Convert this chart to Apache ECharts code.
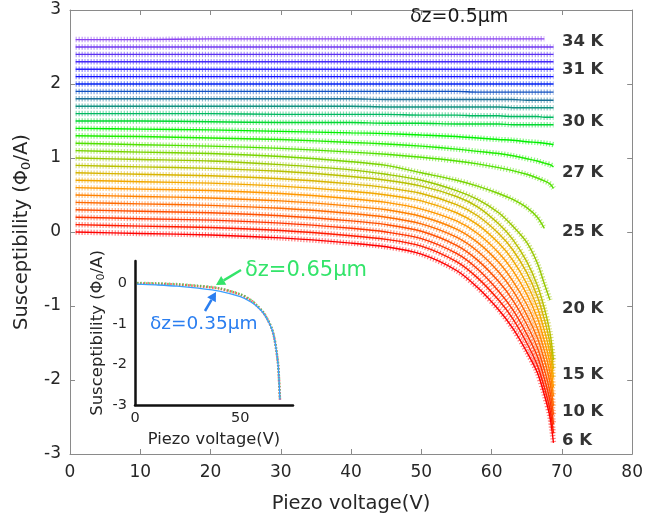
<!DOCTYPE html>
<html>
<head>
<meta charset="utf-8">
<script src="https://cdn.jsdelivr.net/npm/echarts@6/dist/echarts.min.js"></script>
<style>
  html, body { margin: 0; padding: 0; background: #fff; }
  #chart { width: 646px; height: 519px; }
</style>
</head>
<body>
<div id="chart"></div>
<script>
// piezo voltage grid the curves were read at
const piezoV = [0.8, 10, 20, 30, 40, 45, 50, 55, 58, 61, 63, 65, 66.5, 67.5, 68.3, 68.8];

// susceptibility, one row per temperature, bottom (6 K) to top (34 K)
const chi = [
  [0.00, -0.02, -0.04, -0.08, -0.15, -0.20, -0.30, -0.52, -0.75, -1.05, -1.30, -1.62, -1.90, -2.20, -2.50, -2.85],
  [0.10, 0.08, 0.06, 0.02, -0.05, -0.10, -0.19, -0.40, -0.62, -0.92, -1.17, -1.50, -1.80, -2.10, -2.40, -2.72],
  [0.20, 0.18, 0.16, 0.12, 0.05, 0.00, -0.09, -0.29, -0.50, -0.80, -1.05, -1.38, -1.68, -1.98, -2.28, -2.60],
  [0.30, 0.28, 0.26, 0.22, 0.15, 0.10, 0.01, -0.18, -0.38, -0.67, -0.92, -1.25, -1.56, -1.86, -2.16, -2.47],
  [0.40, 0.38, 0.36, 0.32, 0.25, 0.20, 0.11, -0.07, -0.26, -0.54, -0.79, -1.12, -1.43, -1.73, -2.03, -2.35],
  [0.50, 0.48, 0.46, 0.42, 0.35, 0.30, 0.21, 0.04, -0.14, -0.41, -0.66, -0.98, -1.30, -1.60, -1.90, -2.22],
  [0.60, 0.58, 0.56, 0.52, 0.45, 0.40, 0.31, 0.15, -0.02, -0.28, -0.52, -0.84, -1.16, -1.47, -1.77, -2.10],
  [0.70, 0.68, 0.66, 0.62, 0.55, 0.50, 0.42, 0.26, 0.10, -0.15, -0.38, -0.70, -1.02, -1.33, -1.64, -1.97],
  [0.80, 0.78, 0.76, 0.72, 0.65, 0.60, 0.52, 0.37, 0.22, -0.02, -0.24, -0.55, -0.87, -1.18, -1.50, -1.85],
  [0.90, 0.88, 0.86, 0.82, 0.75, 0.70, 0.62, 0.48, 0.34, 0.11, -0.10, -0.40, -0.72, -1.03, -1.36, -1.73],
  [1.00, 0.98, 0.96, 0.91, 0.84, 0.78, 0.70, 0.56, 0.44, 0.26, 0.08, -0.14, -0.42, -0.70, -0.92, null],
  [1.10, 1.08, 1.06, 1.02, 0.95, 0.90, 0.80, 0.70, 0.62, 0.52, 0.44, 0.33, 0.20, 0.05, null, null],
  [1.20, 1.18, 1.16, 1.13, 1.08, 1.05, 1.01, 0.96, 0.92, 0.87, 0.83, 0.78, 0.73, 0.69, 0.65, 0.59],
  [1.30, 1.29, 1.27, 1.25, 1.21, 1.19, 1.16, 1.12, 1.09, 1.06, 1.03, 0.99, 0.96, 0.93, 0.91, 0.88],
  [1.40, 1.39, 1.38, 1.36, 1.34, 1.33, 1.31, 1.29, 1.27, 1.25, 1.24, 1.22, 1.21, 1.20, 1.19, 1.18],
  [1.50, 1.50, 1.49, 1.48, 1.48, 1.47, 1.47, 1.46, 1.46, 1.46, 1.45, 1.45, 1.45, 1.45, 1.45, 1.45],
  [1.60, 1.60, 1.60, 1.59, 1.59, 1.59, 1.58, 1.58, 1.57, 1.57, 1.56, 1.56, 1.56, 1.55, 1.55, 1.55],
  [1.70, 1.70, 1.70, 1.70, 1.70, 1.69, 1.69, 1.69, 1.69, 1.69, 1.68, 1.68, 1.68, 1.68, 1.68, 1.68],
  [1.80, 1.80, 1.80, 1.80, 1.80, 1.79, 1.79, 1.79, 1.79, 1.79, 1.79, 1.78, 1.78, 1.78, 1.78, 1.78],
  [1.90, 1.90, 1.90, 1.90, 1.90, 1.90, 1.90, 1.90, 1.89, 1.89, 1.89, 1.89, 1.89, 1.89, 1.89, 1.89],
  [2.00, 2.00, 2.00, 2.00, 2.00, 2.00, 2.00, 2.00, 2.00, 2.00, 2.00, 2.00, 2.00, 2.00, 2.00, 2.00],
  [2.10, 2.10, 2.10, 2.10, 2.10, 2.10, 2.10, 2.10, 2.10, 2.10, 2.10, 2.10, 2.10, 2.10, 2.10, 2.10],
  [2.20, 2.20, 2.20, 2.20, 2.20, 2.20, 2.20, 2.20, 2.20, 2.20, 2.20, 2.20, 2.20, 2.20, 2.20, 2.20],
  [2.30, 2.30, 2.30, 2.30, 2.30, 2.30, 2.30, 2.30, 2.30, 2.30, 2.30, 2.30, 2.30, 2.30, 2.30, 2.30],
  [2.40, 2.40, 2.40, 2.40, 2.40, 2.40, 2.40, 2.40, 2.40, 2.40, 2.40, 2.40, 2.40, 2.40, 2.40, 2.40],
  [2.50, 2.50, 2.50, 2.50, 2.50, 2.50, 2.50, 2.50, 2.50, 2.50, 2.50, 2.50, 2.50, 2.50, 2.50, 2.50],
  [2.60, 2.60, 2.61, 2.61, 2.61, 2.61, 2.61, 2.61, 2.61, 2.61, 2.61, 2.61, 2.61, 2.61, null, null]
];

const curveColors = [
  '#ff0000', '#ff1c00', '#ff3600', '#ff5000', '#ff6a00', '#ff8200', '#ff9800', '#f2a800',
  '#d8b400', '#b8c000', '#98c800', '#78d400', '#50e000', '#20ec00', '#00f000', '#00d830',
  '#00b860', '#109080', '#1a7098', '#1050c0', '#0020f0', '#1010ff', '#2a20ff', '#4428f8',
  '#5a30f0', '#7038f0', '#8840f0'
];

// temperature labels on the right
const tempLabels = ['34 K', '31 K', '30 K', '27 K', '25 K', '20 K', '15 K', '10 K', '6 K'];
const tempLabelY = [2.57, 2.19, 1.49, 0.80, 0.00, -1.03, -1.93, -2.43, -2.82];

// inset: same curve at three tip heights
const insetV = [1, 10, 20, 30, 40, 50, 55, 58, 61, 63, 65, 66, 67, 68, 68.8];
const insetMid = [0.00, -0.01, -0.03, -0.07, -0.13, -0.28, -0.42, -0.56, -0.73, -0.90, -1.13, -1.32, -1.62, -2.05, -2.87];
const insetHigh = [0.01, 0.00, -0.02, -0.06, -0.12, -0.27, -0.41, -0.55, -0.72, -0.89, -1.12, -1.31, -1.61, -2.04, -2.86];
const insetLow = [-0.02, -0.04, -0.07, -0.12, -0.19, -0.33, -0.46, -0.58, -0.74, -0.91, -1.13, -1.32, -1.62, -2.05, -2.87];

function pairs(xs, ys) {
  return xs.map((x, k) => [x, ys[k]]).filter(p => p[1] !== null);
}

var chart = echarts.init(document.getElementById('chart'), null, { renderer: 'canvas' });

var frame = { onZero: false, lineStyle: { color: '#8a8a8a', width: 1 } };
var tick = { inside: true, length: 5, lineStyle: { color: '#8a8a8a' } };
var font = '"DejaVu Sans", Verdana, sans-serif';

var series = [];
chi.forEach(function (row, i) {
  var d = pairs(piezoV, row);
  // scattered points band
  series.push({
    type: 'line', xAxisIndex: 0, yAxisIndex: 0, data: d,
    smooth: 0.3, showSymbol: false, silent: true,
    lineStyle: { color: curveColors[i], width: 5.5, type: [1.2, 1.8], opacity: 0.5 },
    z: 2
  });
  // fit line
  series.push({
    type: 'line', xAxisIndex: 0, yAxisIndex: 0, data: d,
    smooth: 0.3, showSymbol: false, silent: true,
    lineStyle: { color: curveColors[i], width: 1.4 },
    z: 3
  });
});

series.push({
  type: 'scatter', xAxisIndex: 0, yAxisIndex: 0, symbolSize: 0,
  data: tempLabelY.map(function (y, k) { return { value: [70.0, y], name: tempLabels[k] }; }),
  label: {
    show: true, position: 'right', distance: 0, formatter: '{b}',
    fontFamily: font, fontSize: 16.5, fontWeight: 'bold', color: '#000'
  },
  z: 5
});

[[insetMid, '#ff3030', [1.5, 1.5], 2.5, 0.8], [insetHigh, '#30d050', [1.5, 2], 2.5, 0.7], [insetLow, '#3aa0ff', 'solid', 1.3, 1]]
  .forEach(function (s) {
    series.push({
      type: 'line', xAxisIndex: 2, yAxisIndex: 2, data: pairs(insetV, s[0]),
      smooth: 0.3, showSymbol: false, silent: true,
      lineStyle: { color: s[1], type: s[2], width: s[3], opacity: s[4] }
    });
  });

function arrow(x1, y1, x2, y2, color) {
  var a = Math.atan2(y2 - y1, x2 - x1), L = 9, W = 5;
  var bx = x2 - L * Math.cos(a), by = y2 - L * Math.sin(a);
  return [
    { type: 'line', shape: { x1: x1, y1: y1, x2: bx, y2: by }, style: { stroke: color, lineWidth: 2.5 }, z: 20 },
    { type: 'polygon', shape: { points: [[x2, y2],
        [bx + W * Math.sin(a), by - W * Math.cos(a)],
        [bx - W * Math.sin(a), by + W * Math.cos(a)]] }, style: { fill: color }, z: 20 }
  ];
}

var option = {
  animation: false,
  backgroundColor: '#fff',
  grid: [
    { left: 70, right: 8, top: 10, bottom: 65, show: false },
    { left: 135, top: 261, width: 158, height: 144, show: false }
  ],
  xAxis: [
    {
      type: 'value', gridIndex: 0, min: 0, max: 80, interval: 10, position: 'bottom',
      axisLine: frame, axisTick: tick, splitLine: { show: false },
      axisLabel: { fontFamily: font, fontSize: 17, color: '#262626', margin: 10 },
      name: 'Piezo voltage(V)', nameLocation: 'middle', nameGap: 40,
      nameTextStyle: { fontFamily: font, fontSize: 19.5, color: '#262626' }
    },
    {
      type: 'value', gridIndex: 0, min: 0, max: 80, interval: 10, position: 'top',
      axisLine: frame, axisTick: tick, splitLine: { show: false }, axisLabel: { show: false }
    },
    {
      type: 'value', gridIndex: 1, min: 0, max: 75, interval: 50,
      axisLine: { onZero: false, lineStyle: { color: '#111', width: 2.5 } }, axisTick: { show: false },
      splitLine: { show: false },
      axisLabel: { fontFamily: font, fontSize: 14.5, color: '#262626', margin: 6,
        formatter: function (v) { return v % 50 === 0 ? v : ''; } },
      name: 'Piezo voltage(V)', nameLocation: 'middle', nameGap: 27,
      nameTextStyle: { fontFamily: font, fontSize: 16.3, color: '#262626' }
    }
  ],
  yAxis: [
    {
      type: 'value', gridIndex: 0, min: -3, max: 3, interval: 1, position: 'left',
      axisLine: frame, axisTick: tick, splitLine: { show: false },
      axisLabel: { fontFamily: font, fontSize: 17, color: '#262626', margin: 9 },
      name: '{a|Susceptibility (Φ}{s|0}{a|/A)}', nameLocation: 'middle', nameGap: 34, nameRotate: 90,
      nameTextStyle: {
        rich: {
          a: { fontFamily: font, fontSize: 19.5, color: '#262626' },
          s: { fontFamily: font, fontSize: 13, color: '#262626', padding: [10, 0, 0, 0] }
        }
      }
    },
    {
      type: 'value', gridIndex: 0, min: -3, max: 3, interval: 1, position: 'right',
      axisLine: frame, axisTick: tick, splitLine: { show: false }, axisLabel: { show: false }
    },
    {
      type: 'value', gridIndex: 1, min: -3, max: 0.55, interval: 1,
      axisLine: { onZero: false, lineStyle: { color: '#111', width: 2.5 } }, axisTick: { show: false },
      splitLine: { show: false },
      axisLabel: { fontFamily: font, fontSize: 14.5, color: '#262626', margin: 8,
        formatter: function (v) { return Number.isInteger(v) ? v : ''; } },
      name: '{a|Susceptibility (Φ}{s|0}{a|/A)}', nameLocation: 'middle', nameGap: 28, nameRotate: 90,
      nameTextStyle: {
        rich: {
          a: { fontFamily: font, fontSize: 16.5, color: '#262626' },
          s: { fontFamily: font, fontSize: 11, color: '#262626', padding: [8, 0, 0, 0] }
        }
      }
    }
  ],
  series: series,
  graphic: [
    { type: 'text', left: 410, top: 8, style: { text: 'δz=0.5μm', fontFamily: font, fontSize: 19, fill: '#1a1a1a' }, z: 20 },
    { type: 'text', left: 245, top: 260, style: { text: 'δz=0.65μm', fontFamily: font, fontSize: 21, fill: '#33e46a' }, z: 20 },
    { type: 'text', left: 150, top: 315, style: { text: 'δz=0.35μm', fontFamily: font, fontSize: 18.5, fill: '#2a7ef0' }, z: 20 }
  ].concat(arrow(241, 270, 216, 285, '#33e46a'), arrow(205, 311, 216, 292, '#2a7ef0'))
};

chart.setOption(option);
</script>
</body>
</html>
